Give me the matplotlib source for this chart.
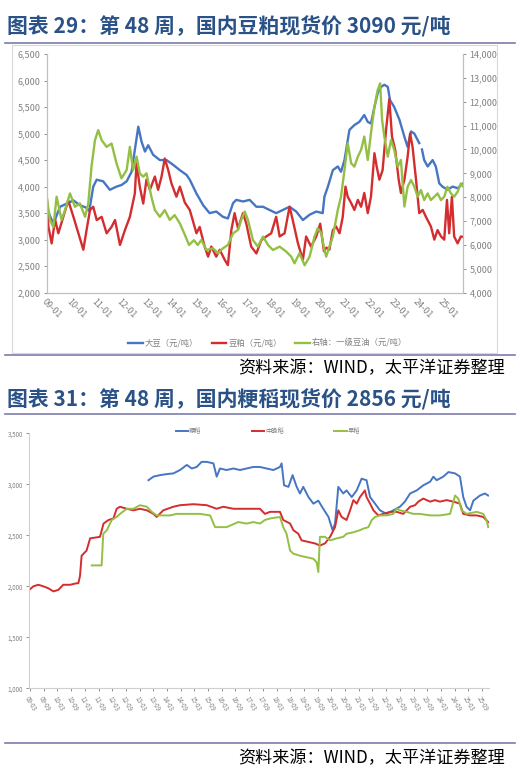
import matplotlib
matplotlib.use("Agg")
import matplotlib.pyplot as plt
from matplotlib.patches import Rectangle
from matplotlib.lines import Line2D

plt.rcParams["font.family"] = ["Noto Sans CJK SC", "DejaVu Sans"]
plt.rcParams["axes.unicode_minus"] = False

# ---------------------------------------------------------------------------
# chart 29: soybean / soymeal (left axis) and soybean oil (right axis), yuan/t
# ---------------------------------------------------------------------------
SOY_T = [2009.00, 2009.13, 2009.27, 2009.54, 2009.81, 2010.08, 2010.34, 2010.61, 2010.72,
         2010.88, 2011.02, 2011.28, 2011.55, 2011.82, 2012.02, 2012.23, 2012.43, 2012.56,
         2012.70, 2012.83, 2012.97, 2013.10, 2013.30, 2013.57, 2013.84, 2014.11, 2014.38,
         2014.65, 2014.78, 2015.05, 2015.32, 2015.58, 2015.85, 2016.12, 2016.32, 2016.53,
         2016.66, 2016.93, 2017.20, 2017.47, 2017.74, 2018.00, 2018.27, 2018.54, 2018.81,
         2019.08, 2019.35, 2019.62, 2019.89, 2020.15, 2020.22, 2020.36, 2020.56, 2020.76,
         2020.89, 2021.03, 2021.23, 2021.43, 2021.63, 2021.83, 2021.97, 2022.10, 2022.24,
         2022.37, 2022.51, 2022.64, 2022.78, 2022.87, 2023.04, 2023.25, 2023.45, 2023.58,
         2023.72, 2023.85, 2024.05]
SOY_V = [3600, 3450, 3300, 3620, 3680, 3740, 3650, 3600, 3540,
         4000, 4130, 4100, 3940, 4000, 4030, 4100, 4280, 4690,
         5130, 4850, 4660, 4780, 4600, 4500, 4500, 4410, 4310,
         4220, 4130, 3870, 3650, 3500, 3530, 3430, 3400, 3690,
         3750, 3720, 3750, 3620, 3620, 3560, 3500, 3560, 3620,
         3530, 3370, 3470, 3530, 3500, 3810, 4000, 4310, 4380,
         4280, 4500, 5070, 5160, 5220, 5350, 5220, 5190, 5500,
         5760, 5880, 5920, 5880, 5630, 5500, 5260, 4940, 4750,
         5040, 5000, 4820]
# the soybean series has a short break at the start of 2024
SOY_T2 = [2024.16, 2024.25, 2024.39, 2024.59, 2024.72, 2024.86, 2024.99, 2025.19, 2025.40,
          2025.60, 2025.83]
SOY_V2 = [4700, 4500, 4380, 4500, 4380, 4060, 4000, 3940, 4000, 3970, 4060]

MEAL_T = [2009.00, 2009.07, 2009.20, 2009.34, 2009.47, 2009.67, 2009.87, 2010.08, 2010.28,
          2010.48, 2010.61, 2010.75, 2010.88, 2011.02, 2011.22, 2011.42, 2011.62, 2011.76,
          2011.96, 2012.16, 2012.36, 2012.56, 2012.63, 2012.76, 2012.90, 2013.03, 2013.17,
          2013.37, 2013.50, 2013.64, 2013.77, 2013.91, 2014.04, 2014.24, 2014.38, 2014.58,
          2014.78, 2015.05, 2015.18, 2015.38, 2015.52, 2015.65, 2015.85, 2015.99, 2016.19,
          2016.32, 2016.46, 2016.59, 2016.73, 2016.93, 2017.06, 2017.26, 2017.47, 2017.67,
          2017.87, 2018.07, 2018.27, 2018.41, 2018.61, 2018.81, 2018.94, 2019.15, 2019.35,
          2019.48, 2019.68, 2019.89, 2020.05, 2020.20, 2020.30, 2020.42, 2020.56, 2020.69,
          2020.83, 2020.96, 2021.07, 2021.16, 2021.30, 2021.43, 2021.57, 2021.70, 2021.83,
          2021.97, 2022.10, 2022.24, 2022.33, 2022.44, 2022.57, 2022.71, 2022.84, 2022.95,
          2023.08, 2023.22, 2023.31, 2023.45, 2023.58, 2023.68, 2023.78, 2023.92, 2024.05,
          2024.19, 2024.32, 2024.52, 2024.66, 2024.79, 2024.93, 2025.06, 2025.17, 2025.26,
          2025.37, 2025.46, 2025.60, 2025.73, 2025.83]
MEAL_V = [3850, 3240, 2930, 3380, 3120, 3430, 3740, 3430, 3120,
          2810, 3180, 3560, 3620, 3370, 3430, 3120, 3240, 3370,
          2900, 3180, 3430, 3870, 4440, 4000, 3680, 4130, 3940,
          4190, 3940, 4190, 4530, 4310, 4060, 3810, 4000, 3700,
          3560, 3120, 3240, 2870, 2680, 2870, 2680, 2810, 2620,
          2520, 3180, 3500, 3210, 3500, 3310, 2870, 2740, 2990,
          3060, 3120, 3430, 3060, 3120, 3620, 3370, 2930, 2620,
          3060, 2870, 3060, 3300, 2780, 2850, 2810, 3180, 3250,
          3120, 3430, 4000, 3810, 3690, 3560, 3750, 3620, 3880,
          3500, 3810, 4630, 4380, 4130, 4310, 5070, 5650, 4940,
          4690, 4130, 3880, 4130, 4560, 5000, 4750, 4130, 3500,
          3560, 3430, 3250, 3000, 3180, 3060, 3000, 3750, 3120,
          3810, 3060, 2930, 3060, 3050]

OIL_T = [2009.00, 2009.13, 2009.27, 2009.40, 2009.60, 2009.74, 2009.94, 2010.14, 2010.34,
         2010.55, 2010.68, 2010.81, 2010.95, 2011.08, 2011.22, 2011.42, 2011.62, 2011.82,
         2012.02, 2012.23, 2012.36, 2012.49, 2012.63, 2012.76, 2012.90, 2013.03, 2013.23,
         2013.37, 2013.57, 2013.77, 2013.97, 2014.17, 2014.38, 2014.55, 2014.75, 2014.95,
         2015.10, 2015.25, 2015.45, 2015.72, 2015.92, 2016.12, 2016.32, 2016.53, 2016.73,
         2016.86, 2017.00, 2017.13, 2017.33, 2017.53, 2017.74, 2017.94, 2018.14, 2018.41,
         2018.68, 2018.88, 2019.01, 2019.21, 2019.42, 2019.62, 2019.82, 2019.95, 2020.09,
         2020.22, 2020.29, 2020.42, 2020.56, 2020.76, 2020.89, 2021.03, 2021.16, 2021.30,
         2021.43, 2021.57, 2021.70, 2021.83, 2021.97, 2022.10, 2022.24, 2022.37, 2022.47,
         2022.55, 2022.64, 2022.78, 2022.91, 2023.04, 2023.18, 2023.31, 2023.45, 2023.58,
         2023.72, 2023.85, 2023.99, 2024.12, 2024.25, 2024.39, 2024.52, 2024.66, 2024.79,
         2024.93, 2025.06, 2025.19, 2025.33, 2025.46, 2025.60, 2025.73, 2025.83]
OIL_V = [8020, 7050, 6750, 8020, 7050, 7460, 8160, 7600, 7740,
         7180, 7740, 9280, 10390, 10810, 10390, 10110, 10250, 9420,
         8790, 9140, 10110, 9140, 9700, 9000, 8860, 9000, 8020,
         7460, 7180, 7460, 7050, 7250, 6900, 6500, 6000, 6200,
         6000, 6210, 5790, 5860, 5650, 5860, 6000, 6490, 6630,
         7050, 7400, 7050, 6210, 5930, 6350, 6000, 5790, 5930,
         5720, 5510, 5230, 5650, 5150, 5510, 6350, 6700, 6500,
         5790, 5510, 5930, 6350, 7470, 8020, 9140, 10260, 9420,
         9280, 9700, 9980, 10540, 9560, 10680, 11790, 12490, 12770,
         11230, 10540, 9700, 10400, 9980, 9280, 9560, 7610, 8440,
         8720, 8440, 8020, 8300, 7880, 8160, 7880, 8020, 8160,
         7880, 8020, 8440, 8160, 8020, 8230, 8580, 8440]

TOP_XTICKS = list(range(2009, 2026))
TOP_XLABELS = [f"{y % 100:02d}-01" for y in TOP_XTICKS]
LEFT_TICKS = list(range(2000, 6501, 500))
RIGHT_TICKS = list(range(4000, 14001, 1000))

# ---------------------------------------------------------------------------
# chart 31: rice spot prices, yuan/t
# ---------------------------------------------------------------------------
JAP_T = [2013.49, 2013.67, 2013.91, 2014.16, 2014.40, 2014.64, 2014.89, 2015.07, 2015.25,
         2015.43, 2015.62, 2015.86, 2015.98, 2016.10, 2016.34, 2016.59, 2016.83, 2017.07,
         2017.32, 2017.56, 2017.80, 2018.05, 2018.29, 2018.35, 2018.44, 2018.60, 2018.75,
         2018.90, 2019.02, 2019.14, 2019.33, 2019.51, 2019.69, 2019.87, 2020.06, 2020.21,
         2020.30, 2020.42, 2020.60, 2020.72, 2020.91, 2021.09, 2021.27, 2021.45, 2021.58,
         2021.76, 2021.94, 2022.18, 2022.43, 2022.67, 2022.85, 2023.04, 2023.28, 2023.52,
         2023.77, 2023.89, 2024.01, 2024.25, 2024.44, 2024.68, 2024.86, 2024.98, 2025.10,
         2025.23, 2025.35, 2025.59, 2025.77, 2025.89]
JAP_V = [3040, 3075, 3090, 3100, 3107, 3140, 3190, 3155, 3170,
         3220, 3220, 3205, 3075, 3155, 3140, 3155, 3140, 3155,
         3170, 3170, 3155, 3140, 3170, 3205, 2990, 2975, 3090,
         2975, 2910, 2975, 2875, 2810, 2840, 2760, 2680, 2550,
         2615, 2975, 2910, 2940, 2875, 2940, 3055, 3040, 2875,
         2810, 2745, 2710, 2745, 2780, 2830, 2910, 2940, 2990,
         3025, 3075, 3040, 3075, 3120, 3107, 3075, 2875, 2780,
         2745, 2840, 2890, 2910, 2890]

MID_T = [2009.14, 2009.29, 2009.47, 2009.65, 2009.84, 2010.02, 2010.20, 2010.38, 2010.63,
         2010.87, 2010.93, 2010.99, 2011.05, 2011.23, 2011.36, 2011.72, 2011.85, 2012.03,
         2012.21, 2012.33, 2012.45, 2012.70, 2012.94, 2013.18, 2013.43, 2013.67, 2013.79,
         2014.03, 2014.40, 2014.64, 2015.13, 2015.62, 2015.98, 2016.22, 2016.59, 2017.07,
         2017.56, 2017.74, 2017.93, 2018.29, 2018.41, 2018.66, 2018.78, 2018.96, 2019.08,
         2019.33, 2019.57, 2019.75, 2019.93, 2020.12, 2020.30, 2020.42, 2020.54, 2020.72,
         2020.85, 2020.97, 2021.09, 2021.21, 2021.39, 2021.45, 2021.58, 2021.70, 2021.88,
         2022.06, 2022.31, 2022.55, 2022.79, 2023.04, 2023.22, 2023.34, 2023.52, 2023.77,
         2023.95, 2024.13, 2024.37, 2024.62, 2024.86, 2024.98, 2025.23, 2025.47, 2025.71,
         2025.89]
MID_V = [1965, 2000, 2015, 2000, 1980, 1950, 1965, 2015, 2015,
         2030, 2030, 2100, 2300, 2350, 2470, 2485, 2615, 2650,
         2665, 2760, 2780, 2760, 2745, 2760, 2745, 2710, 2680,
         2745, 2780, 2795, 2805, 2795, 2760, 2780, 2760, 2760,
         2760, 2710, 2730, 2730, 2650, 2615, 2550, 2515, 2450,
         2435, 2420, 2400, 2420, 2485, 2580, 2745, 2680, 2650,
         2745, 2845, 2810, 2875, 2940, 2875, 2810, 2745, 2695,
         2710, 2730, 2730, 2710, 2780, 2795, 2830, 2860, 2830,
         2845, 2830, 2845, 2830, 2810, 2710, 2695, 2695, 2680,
         2630]

EARLY_T = [2011.42, 2011.78, 2011.84, 2011.97, 2012.15, 2012.33, 2012.45, 2012.70, 2012.94,
           2013.18, 2013.43, 2013.61, 2013.79, 2014.03, 2014.28, 2014.52, 2014.89, 2015.37,
           2015.74, 2015.92, 2016.34, 2016.77, 2017.07, 2017.32, 2017.56, 2017.74, 2017.93,
           2018.29, 2018.41, 2018.53, 2018.66, 2018.78, 2019.02, 2019.26, 2019.51, 2019.63,
           2019.69, 2019.75, 2019.93, 2020.12, 2020.36, 2020.60, 2020.72, 2020.97, 2021.21,
           2021.33, 2021.52, 2021.64, 2021.76, 2021.94, 2022.18, 2022.43, 2022.55, 2022.67,
           2022.91, 2023.16, 2023.40, 2023.77, 2024.13, 2024.50, 2024.68, 2024.80, 2024.92,
           2025.10, 2025.47, 2025.71, 2025.83, 2025.89]
EARLY_V = [2205, 2205, 2515, 2550, 2650, 2680, 2710, 2760, 2760,
           2795, 2780, 2730, 2695, 2695, 2695, 2710, 2710, 2710,
           2695, 2580, 2580, 2630, 2615, 2630, 2615, 2650, 2665,
           2680, 2580, 2515, 2350, 2320, 2300, 2285, 2270, 2235,
           2140, 2485, 2485, 2450, 2470, 2485, 2515, 2530, 2550,
           2565, 2580, 2650, 2680, 2695, 2695, 2710, 2760, 2745,
           2730, 2710, 2710, 2695, 2695, 2710, 2890, 2860, 2745,
           2710, 2730, 2710, 2650, 2580]

BOT_XTICKS = [2009 + i * 0.5 + 1 / 6 for i in range(34)]
BOT_XLABELS = [f"{9 + i // 2:02d}-{'03' if i % 2 == 0 else '09'}" for i in range(34)]
BOT_YTICKS = [1000, 1500, 2000, 2500, 3000, 3500]

BLUE, RED, GREEN = "#4676C3", "#D42D2F", "#94BF45"
TITLE_C, RULE_C, GREY = "#2A5286", "#7C7CAC", "#808080"
W, H = 520, 770


def fx(px):  # pixel -> figure fraction
    return px / W


def fy(py):
    return 1 - py / H


fig = plt.figure(figsize=(5.2, 7.7), dpi=100)

# titles, rules, source notes
for ytitle, yrule, ysrc, yrule2, txt in [
        (27, 43, 368, 355, "图表 29：第 48 周，国内豆粕现货价 3090 元/吨"),
        (400, 414, 758, 743, "图表 31：第 48 周，国内粳稻现货价 2856 元/吨")]:
    fig.text(fx(7), fy(ytitle), txt, fontsize=15, fontweight="bold", color=TITLE_C,
             ha="left", va="center")
    for yy in (yrule, yrule2):
        fig.add_artist(Line2D([fx(5), fx(515)], [fy(yy), fy(yy)], color=RULE_C, lw=1.2))
    fig.text(fx(505), fy(ysrc), "资料来源：WIND，太平洋证券整理", fontsize=12.3,
             style="italic", color="black", ha="right", va="center")

# light frame around the first chart
fig.add_artist(Rectangle((fx(12), fy(353)), fx(497) - fx(12), fy(45) - fy(353),
                         transform=fig.transFigure, fill=False, ec="#D9D9D9", lw=0.8))

# ---- chart 29 ----
ax = fig.add_axes([fx(46.7), fy(292.7), fx(463.3) - fx(46.7), fy(54) - fy(292.7)])
ax2 = ax.twinx()
l1, = ax.plot(SOY_T, SOY_V, color=BLUE, lw=1.7, label="大豆（元/吨）")
ax.plot(SOY_T2, SOY_V2, color=BLUE, lw=1.7)
l2, = ax.plot(MEAL_T, MEAL_V, color=RED, lw=1.7, label="豆粕（元/吨）")
l3, = ax2.plot(OIL_T, OIL_V, color=GREEN, lw=1.7, label="右轴：一级豆油（元/吨）")
ax.set_xlim(2009.0, 2025.83)
ax.set_ylim(2000, 6500)
ax2.set_ylim(4000, 14000)
ax.set_yticks(LEFT_TICKS)
ax.set_yticklabels([f"{v:,}" for v in LEFT_TICKS])
ax2.set_yticks(RIGHT_TICKS)
ax2.set_yticklabels([f"{v:,}" for v in RIGHT_TICKS])
ax.set_xticks(TOP_XTICKS)
ax.set_xticklabels(TOP_XLABELS, rotation=-45, ha="left", va="top", rotation_mode="anchor")
for a in (ax, ax2):
    for s in a.spines.values():
        s.set_color("#BFBFBF")
        s.set_linewidth(0.8)
    a.spines["top"].set_visible(False)
    a.tick_params(labelsize=6.5, colors=GREY, length=2.5, width=0.6, pad=2)
ax.tick_params(axis="x", length=0, pad=3)
ax.patch.set_alpha(0)
fig.legend(handles=[l1, l2, l3], loc="center", bbox_to_anchor=(fx(268), fy(343)),
           ncol=3, frameon=False, fontsize=6, handlelength=1.7, handletextpad=0.3,
           columnspacing=1.6, labelcolor=GREY)

# ---- chart 31 ----
bx = fig.add_axes([fx(29.3), fy(688.3), fx(489) - fx(29.3), fy(433.3) - fy(688.3)])
b1, = bx.plot(JAP_T, JAP_V, color=BLUE, lw=1.4, label="粳稻")
b2, = bx.plot(MID_T, MID_V, color=RED, lw=1.4, label="中晚稻")
b3, = bx.plot(EARLY_T, EARLY_V, color=GREEN, lw=1.4, label="早稻")
bx.set_xlim(2009.14, 2025.92)
bx.set_ylim(1000, 3500)
bx.set_yticks(BOT_YTICKS)
bx.set_yticklabels([f"{v:,}" for v in BOT_YTICKS])
bx.set_xticks(BOT_XTICKS)
bx.set_xticklabels(BOT_XLABELS, rotation=-60, ha="left", va="top", rotation_mode="anchor")
for s in ("top", "right"):
    bx.spines[s].set_visible(False)
for s in ("left", "bottom"):
    bx.spines[s].set_color("#D0D0D0")
    bx.spines[s].set_linewidth(0.8)
bx.tick_params(labelsize=4.5, colors=GREY, length=2.5, width=0.6, pad=2)
bx.legend(handles=[b1, b2, b3], loc="center", bbox_to_anchor=(fx(268), fy(431)),
          bbox_transform=fig.transFigure, ncol=3, frameon=False, fontsize=4.5,
          handlelength=2.0, handletextpad=0.2, columnspacing=8, labelcolor=GREY)

fig.savefig("out.png", dpi=100)
